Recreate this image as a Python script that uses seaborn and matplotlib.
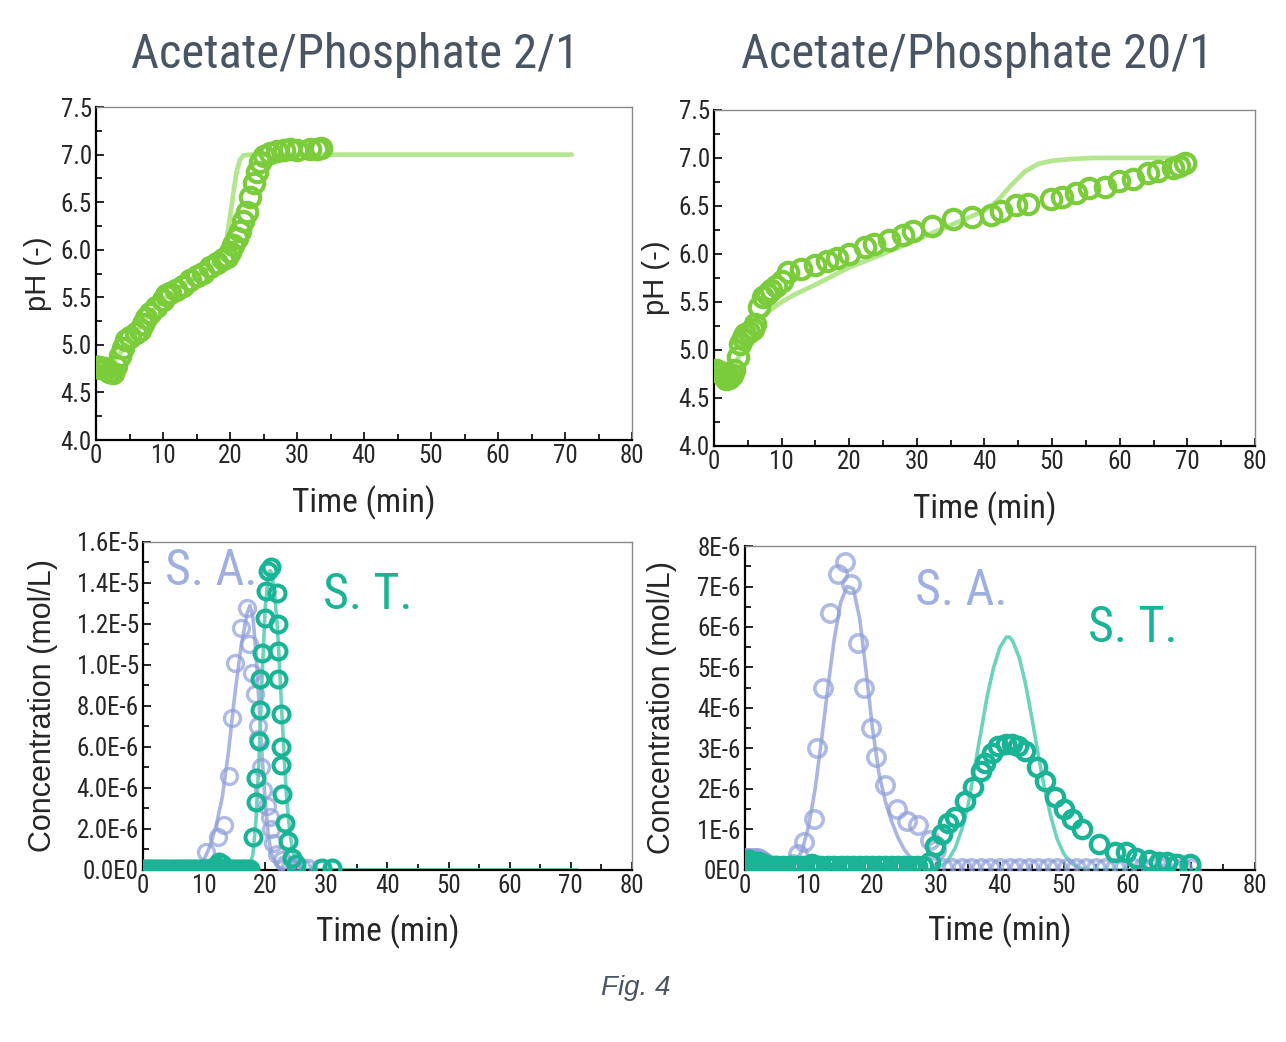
import numpy as np
import pandas as pd
import seaborn as sns
import matplotlib
matplotlib.use("Agg")
import matplotlib.pyplot as plt
from matplotlib.ticker import MultipleLocator

# ---------------- data ----------------
# pH, acetate/phosphate 2/1
ph21_t = [0, 0.25, 0.5, 0.75, 1, 1.25, 1.5, 2, 2.5, 3, 3.5, 4, 4.5, 5, 6, 6.5, 7, 7.5, 8, 9, 10,
          10.5, 11, 12, 13, 14, 15, 16, 17, 18, 19, 19.5, 20, 20.5, 21, 21.5, 22, 22.5, 23, 23.5,
          24, 24.5, 25, 26, 27, 28, 29, 30, 32, 33, 33.5]
ph21_v = [4.77, 4.77, 4.77, 4.76, 4.76, 4.76, 4.75, 4.72, 4.70, 4.78, 4.88, 4.97, 5.05, 5.08, 5.12,
          5.16, 5.22, 5.28, 5.33, 5.40, 5.47, 5.52, 5.55, 5.58, 5.62, 5.68, 5.72, 5.76, 5.82, 5.86,
          5.90, 5.92, 5.98, 6.05, 6.12, 6.20, 6.30, 6.40, 6.55, 6.70, 6.82, 6.92, 6.98, 7.02, 7.04,
          7.05, 7.06, 7.05, 7.06, 7.06, 7.07]
ph21_model_t = [0, 2, 3, 5, 8, 10, 14, 18, 19, 19.5, 20, 20.5, 21, 21.5, 22, 23, 71]
ph21_model_v = [4.77, 4.75, 4.85, 5.05, 5.33, 5.48, 5.68, 5.88, 5.97, 6.12, 6.35, 6.60, 6.83, 6.95,
                6.99, 7.0, 7.0]

# pH, acetate/phosphate 20/1
ph201_t = [0, 0.3, 0.6, 1, 1.5, 1.8, 2.2, 2.6, 3, 3.6, 3.9, 4.3, 4.6, 5.2, 5.7, 6.1, 6.7, 7.3, 7.9,
           8.5, 9.2, 10, 10.9, 12.8, 14.9, 16.7, 18.2, 19.9, 22.4, 23.7, 25.9, 28, 29.5, 32.2,
           35.3, 38.2, 41, 42.5, 44.7, 46.5, 49.9, 51.4, 53.5, 55.4, 57.8, 59.9, 62, 64.2, 65.7,
           67.8, 68.8, 69.6]
ph201_v = [4.78, 4.79, 4.78, 4.76, 4.73, 4.70, 4.71, 4.74, 4.79, 4.93, 5.06, 5.12, 5.17, 5.19,
           5.22, 5.27, 5.45, 5.55, 5.58, 5.62, 5.67, 5.72, 5.81, 5.84, 5.89, 5.93, 5.96, 6.00,
           6.07, 6.10, 6.15, 6.20, 6.24, 6.29, 6.36, 6.38, 6.41, 6.45, 6.51, 6.52, 6.57, 6.59,
           6.64, 6.69, 6.70, 6.76, 6.78, 6.84, 6.86, 6.89, 6.92, 6.95]
ph201_model_t = [0, 2, 3, 4, 5, 6, 7, 8, 10, 12, 15, 20, 25, 30, 35, 40, 41, 42, 43, 44, 45, 46,
                 47, 48, 50, 53, 56, 70]
ph201_model_v = [4.78, 4.73, 4.80, 5.00, 5.15, 5.25, 5.33, 5.40, 5.50, 5.58, 5.68, 5.86, 6.00,
                 6.15, 6.30, 6.45, 6.50, 6.56, 6.64, 6.72, 6.79, 6.86, 6.90, 6.94, 6.97, 6.99,
                 7.0, 7.0]

# concentration (1E-6 mol/L), 2/1
c21_sa_t = [0, 0.5, 1, 1.5, 2, 2.5, 3, 3.5, 4, 4.5, 5, 5.5, 6, 6.5, 7, 7.5, 8, 8.5, 9, 9.5,
            10.3, 12.3, 13.2, 14, 14.5, 15, 16, 17, 17.3, 17.9, 18.3, 18.5, 18.8, 18.8, 19.3,
            19.7, 20.3, 20.7, 21, 21.3, 22, 22.7, 23.3, 24, 25, 26, 27, 29, 31]
c21_sa_v = [0.05, 0.05, 0.05, 0.05, 0.05, 0.05, 0.05, 0.05, 0.05, 0.05, 0.05, 0.05, 0.05, 0.05,
            0.05, 0.05, 0.05, 0.05, 0.05, 0.05,
            0.9, 1.6, 2.2, 4.6, 7.4, 10.1, 11.8, 12.8, 11.0, 9.6, 8.6, 4.5, 7.0, 6.4, 5.0,
            3.9, 3.1, 2.6, 2.0, 1.3, 0.8, 0.5, 0.3, 0.15, 0.1, 0.1, 0.1, 0.1, 0.1]
c21_st_t = [0, 0.5, 1, 1.5, 2, 2.5, 3, 3.5, 4, 4.5, 5, 5.5, 6, 6.5, 7, 7.5, 8, 8.5, 9, 9.5, 10,
            10.5, 11, 11.5, 12, 12.5, 13, 13.5, 14, 14.5, 15, 15.5, 16, 16.5, 17, 17.5,
            18, 18.5, 18.5, 19, 19.2, 19.2, 19.5, 19.9, 20.1, 20.5, 21, 22, 22.1, 22.1, 22.1,
            22.5, 22.5, 22.5, 22.7, 23.3, 23.7, 24.3, 25, 29.3, 31]
c21_st_v = [0.05, 0.05, 0.05, 0.05, 0.05, 0.05, 0.05, 0.05, 0.05, 0.05, 0.05, 0.05, 0.05, 0.05,
            0.05, 0.05, 0.05, 0.05, 0.05, 0.05, 0.05, 0.05, 0.05, 0.1, 0.2, 0.4, 0.3, 0.1, 0.05,
            0.05, 0.05, 0.05, 0.05, 0.05, 0.05, 0.05,
            1.6, 3.3, 4.5, 6.3, 7.8, 9.3, 10.6, 12.3, 13.6, 14.6, 14.8, 13.5, 12.0, 10.7, 9.3,
            7.6, 6.0, 5.1, 3.7, 2.3, 1.4, 0.6, 0.3, 0.1, 0.1]
c21_sa_model_t = [0, 8, 9, 10, 11, 12, 13, 14, 15, 16, 17, 17.5, 18, 18.5, 19, 19.5, 20, 20.5,
                  21, 22, 23, 71]
c21_sa_model_v = [0, 0, 0.1, 0.5, 1.2, 2.2, 3.6, 5.8, 8.5, 10.8, 12.5, 12.9, 12.3, 10.5, 8.0,
                  5.5, 3.3, 1.7, 0.8, 0.2, 0, 0]
c21_st_model_t = [0, 17, 17.5, 18, 18.5, 19, 19.5, 20, 20.5, 20.8, 21, 21.5, 22, 22.5, 23, 23.5,
                  24, 24.5, 25, 26, 27, 71]
c21_st_model_v = [0, 0, 0.2, 0.8, 2.5, 5.5, 9.5, 12.8, 14.4, 14.6, 14.5, 13.6, 11.8, 9.0, 6.0,
                  3.5, 1.9, 0.9, 0.4, 0.1, 0, 0]

# concentration (1E-6 mol/L), 20/1
c201_sa_t = [0, 0.5, 1, 1.5, 2, 2.5, 3, 3.5, 4, 4.5, 5, 5.5, 6, 6.5, 7, 7.5,
             8.3, 9.3, 10.9, 11.3, 12.2, 13.3, 14.6, 15.7, 16.7, 17.7, 18.6, 19.7, 20.6, 21.9,
             23.8, 25.4, 27.1, 29, 30,
             31, 32.5, 34, 35.5, 37, 38.5, 40, 41.5, 43, 44.5, 46, 47.5, 49, 50.5, 52, 53.5, 55,
             56.5, 58, 59.5, 61, 62.5, 64, 65.5, 67, 68.5, 70]
c201_sa_v = [0.3, 0.3, 0.3, 0.3, 0.3, 0.25, 0.2, 0.1, 0.1, 0.1, 0.1, 0.1, 0.1, 0.1, 0.1, 0.15,
             0.4, 0.7, 1.25, 3.0, 4.5, 6.35, 7.3, 7.6, 7.05, 5.6, 4.5, 3.5, 2.8, 2.1,
             1.5, 1.2, 1.1, 0.75, 0.5,
             0.05, 0.05, 0.05, 0.05, 0.05, 0.05, 0.05, 0.05, 0.05, 0.05, 0.05, 0.05, 0.05, 0.05,
             0.05, 0.05, 0.05, 0.05, 0.05, 0.05, 0.05, 0.05, 0.05, 0.05, 0.05, 0.05, 0.05]
c201_st_t = [0, 0.3, 0.6, 1, 1.3, 1.6, 2, 2.3, 2.6, 3, 3.5, 4, 4.5, 5, 6, 7, 8, 9, 10, 10.5, 11,
             12, 13, 14, 15, 16, 17, 18, 19, 20, 21, 22, 23, 24, 25, 26, 27, 28,
             29, 29.8, 30.9, 31.9, 32.9, 34.5, 35.8, 37, 37.7, 38.7, 39.7, 41, 41.9, 42.9, 43.9,
             45.8, 47.1, 48.7, 50, 51.3, 52.9, 55.5, 58.1, 59.7, 61.4, 63.3, 64.9, 66.2, 67.8,
             69.8]
c201_st_v = [0.2, 0.2, 0.25, 0.2, 0.15, 0.2, 0.2, 0.15, 0.1, 0.15, 0.1, 0.1, 0.1, 0.1, 0.1, 0.1,
             0.1, 0.1, 0.1, 0.15, 0.1, 0.1, 0.1, 0.1, 0.1, 0.1, 0.1, 0.1, 0.1, 0.1, 0.1, 0.1,
             0.1, 0.1, 0.1, 0.1, 0.1, 0.1,
             0.2, 0.6, 0.9, 1.15, 1.3, 1.7, 2.05, 2.45, 2.65, 2.9, 3.05, 3.1, 3.1, 3.05, 2.95,
             2.55, 2.2, 1.8, 1.5, 1.25, 1.0, 0.65, 0.45, 0.45, 0.3, 0.25, 0.2, 0.2, 0.15, 0.15]
c201_sa_model_t = [0, 6, 7, 8, 9, 10, 11, 12, 13, 14, 15, 16, 17, 18, 19, 20, 21, 22, 23, 24, 25,
                   26, 27, 28, 29, 71]
c201_sa_model_v = [0, 0, 0.05, 0.2, 0.5, 1.1, 2.0, 3.2, 4.5, 5.7, 6.6, 7.0, 6.95, 6.2, 4.9, 3.5,
                   2.4, 1.7, 1.2, 0.8, 0.5, 0.3, 0.15, 0.05, 0, 0]
c201_st_model_t = [0, 29, 30, 31, 32, 33, 34, 35, 36, 37, 38, 39, 40, 41, 41.5, 42, 43, 44, 45,
                   46, 47, 48, 49, 50, 51, 52, 53, 54, 71]
c201_st_model_v = [0, 0, 0.05, 0.12, 0.28, 0.55, 1.0, 1.6, 2.5, 3.4, 4.3, 5.0, 5.5, 5.75, 5.75,
                   5.65, 5.25, 4.6, 3.75, 2.85, 2.0, 1.3, 0.75, 0.4, 0.2, 0.08, 0.03, 0, 0]

ph_ticks = [4.0, 4.5, 5.0, 5.5, 6.0, 6.5, 7.0, 7.5]
ph_labels = ["4.0", "4.5", "5.0", "5.5", "6.0", "6.5", "7.0", "7.5"]
c21_ticks = [0, 2, 4, 6, 8, 10, 12, 14, 16]
c21_labels = ["0.0E0", "2.0E-6", "4.0E-6", "6.0E-6", "8.0E-6", "1.0E-5", "1.2E-5", "1.4E-5", "1.6E-5"]
c201_ticks = [0, 1, 2, 3, 4, 5, 6, 7, 8]
c201_labels = ["0E0", "1E-6", "2E-6", "3E-6", "4E-6", "5E-6", "6E-6", "7E-6", "8E-6"]
x_ticks = [0, 10, 20, 30, 40, 50, 60, 70, 80]

# ---------------- style ----------------
sns.set_style("white")
NARROW = ["Liberation Sans Narrow", "Roboto Condensed", "DejaVu Sans"]
REG = ["Liberation Sans", "DejaVu Sans"]
plt.rcParams["font.family"] = NARROW

GREEN = "#7acc3a"
GREEN_L = "#b3e68f"
SA = "#8e9ed8"
SA_TXT = "#9fafe0"
ST = "#19b395"
ST_L = "#6dd3bc"
TITLE = "#4a5563"

fig = plt.figure(figsize=(12.86, 10.42), dpi=100)
ax_tl = fig.add_axes([0.0747, 0.5777, 0.4168, 0.3196])
ax_tr = fig.add_axes([0.5552, 0.5720, 0.4207, 0.3225])
ax_bl = fig.add_axes([0.1112, 0.1651, 0.3802, 0.3148])
ax_br = fig.add_axes([0.5793, 0.1651, 0.3966, 0.3109])


def style(ax, yticks, ylabels, ylim, yminor, ylab, ylab_x, ylab_size):
    ax.set_xlim(0, 80)
    ax.set_ylim(*ylim)
    ax.set_xticks(x_ticks)
    ax.set_xticklabels([str(v) for v in x_ticks])
    ax.xaxis.set_minor_locator(MultipleLocator(5))
    ax.set_yticks(yticks)
    ax.set_yticklabels(ylabels)
    ax.yaxis.set_minor_locator(MultipleLocator(yminor))
    ax.tick_params(which="both", direction="in", left=True, bottom=True, color="black",
                   width=1.2, labelsize=18, pad=3)
    ax.tick_params(which="major", length=6)
    ax.tick_params(which="minor", length=4)
    for s in ["left", "bottom"]:
        ax.spines[s].set_color("black")
        ax.spines[s].set_linewidth(1.6)
    for s in ["top", "right"]:
        ax.spines[s].set_color("#8a8a8a")
        ax.spines[s].set_linewidth(1.0)
    ax.set_xlabel("Time (min)", fontsize=24, family=NARROW)
    ax.set_ylabel(ylab, fontsize=ylab_size, family=REG)
    ax.xaxis.set_label_coords(0.5, -0.135)
    ax.yaxis.set_label_coords(ylab_x, 0.5)
    ax.set_facecolor("white")


def points(ax, t, v, color, ms, mew, alpha=1.0, z=3):
    sns.lineplot(x=t, y=v, ax=ax, estimator=None, sort=False, linestyle="none", marker="o",
                 markersize=ms, markerfacecolor="none", markeredgecolor=color,
                 markeredgewidth=mew, alpha=alpha, zorder=z)


def model(ax, t, v, color, lw, alpha=1.0, z=2):
    sns.lineplot(x=t, y=v, ax=ax, estimator=None, sort=False, color=color, linewidth=lw,
                 alpha=alpha, zorder=z)


# top left
model(ax_tl, ph21_model_t, ph21_model_v, GREEN_L, 3.4)
points(ax_tl, ph21_t, ph21_v, GREEN, 14, 3.0)
style(ax_tl, ph_ticks, ph_labels, (4.0, 7.5), 0.25, "pH (-)", -0.082, 21)

# top right
model(ax_tr, ph201_model_t, ph201_model_v, GREEN_L, 3.4)
points(ax_tr, ph201_t, ph201_v, GREEN, 14, 3.0)
style(ax_tr, ph_ticks, ph_labels, (4.0, 7.5), 0.25, "pH (-)", -0.081, 21)

# bottom left
model(ax_bl, c21_sa_model_t, c21_sa_model_v, SA, 2.6, alpha=0.75)
points(ax_bl, c21_sa_t, c21_sa_v, SA, 11.5, 2.4, alpha=0.7)
model(ax_bl, c21_st_model_t, c21_st_model_v, ST_L, 2.6)
points(ax_bl, c21_st_t, c21_st_v, ST, 11.5, 2.9, z=4)
style(ax_bl, c21_ticks, c21_labels, (0, 16), 1, "Concentration (mol/L)", -0.174, 22)
ax_bl.text(3.6, 14.6, "S. A.", color=SA_TXT, fontsize=36, va="center", family=NARROW)
ax_bl.text(29.4, 13.4, "S. T.", color=ST, fontsize=36, va="center", family=NARROW)

# bottom right
model(ax_br, c201_sa_model_t, c201_sa_model_v, SA, 2.6, alpha=0.75)
points(ax_br, c201_sa_t, c201_sa_v, SA, 12.5, 2.6, alpha=0.7)
model(ax_br, c201_st_model_t, c201_st_model_v, ST_L, 2.6)
points(ax_br, c201_st_t, c201_st_v, ST, 12.5, 3.1, z=4)
style(ax_br, c201_ticks, c201_labels, (0, 8), 0.5, "Concentration (mol/L)", -0.133, 22)
ax_br.text(26.7, 6.9, "S. A.", color=SA_TXT, fontsize=36, va="center", family=NARROW)
ax_br.text(53.8, 5.97, "S. T.", color=ST, fontsize=36, va="center", family=NARROW)

# titles and caption
fig.text(355 / 1286, 1 - 55 / 1042, "Acetate/Phosphate 2/1", ha="center", va="center",
         fontsize=35, color=TITLE, family=NARROW)
fig.text(977 / 1286, 1 - 55 / 1042, "Acetate/Phosphate 20/1", ha="center", va="center",
         fontsize=35, color=TITLE, family=NARROW)
fig.text(636 / 1286, 1 - 988 / 1042, "Fig. 4", ha="center", va="center", fontsize=20,
         style="italic", color=TITLE, family=REG)

fig.savefig("out.png", dpi=100, facecolor="white")
